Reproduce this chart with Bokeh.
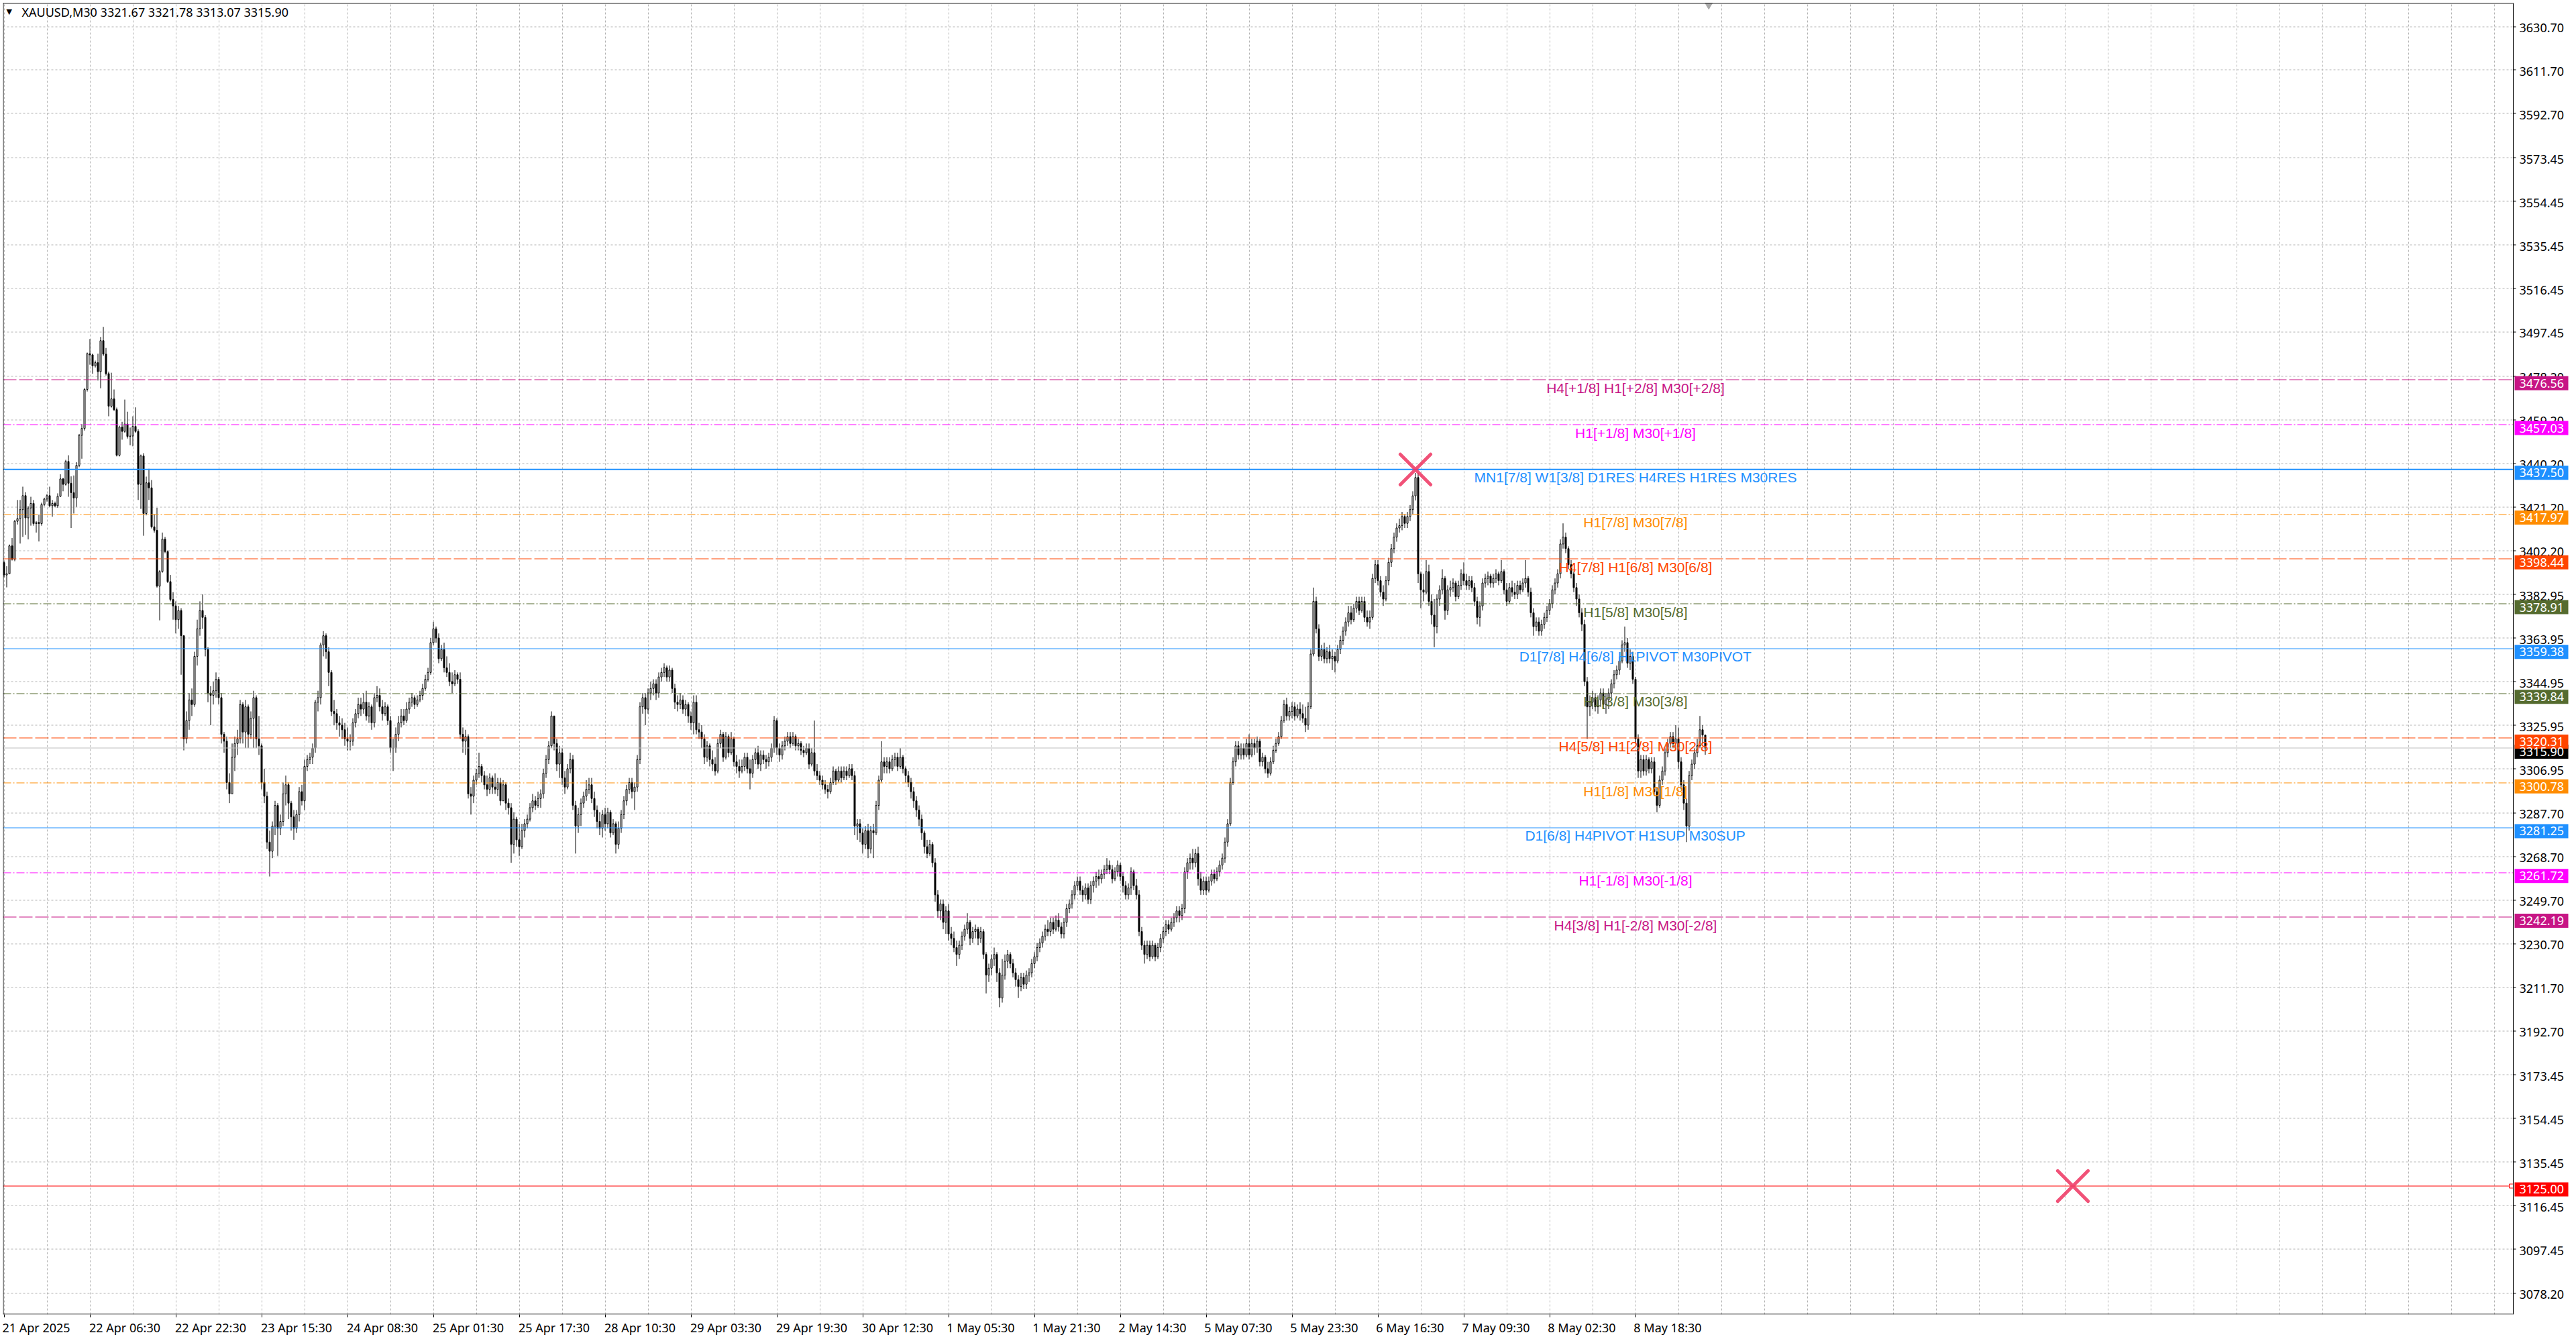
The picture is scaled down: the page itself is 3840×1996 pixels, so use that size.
import math
import numpy as np
from bokeh.plotting import figure
from bokeh.models import ColumnDataSource, FixedTicker, Grid, Label, Range1d
from bokeh.embed import file_html
from bokeh.resources import INLINE
from bokeh.core.properties import value

# ---------------- data ----------------
symbol = "XAUUSD,M30"
first_open = 3396.9

closes = [
3391.5, 3392.0, 3404.2, 3398.3, 3414.9, 3416.1, 3420.0, 3426.1, 3416.4, 3420.7,
3422.7, 3413.9, 3414.4, 3413.9, 3422.2, 3424.6, 3426.1, 3421.7, 3422.7, 3421.7,
3425.8, 3433.4, 3431.0, 3441.0, 3431.5, 3427.4, 3425.1, 3439.3, 3452.4, 3455.4,
3472.4, 3488.0, 3487.5, 3482.7, 3484.1, 3480.2, 3493.7, 3487.8, 3479.3, 3465.1,
3468.3, 3463.6, 3443.7, 3456.0, 3454.1, 3457.3, 3451.9, 3452.1, 3456.3, 3454.1,
3431.0, 3443.4, 3418.3, 3431.7, 3429.5, 3412.5, 3411.0, 3386.6, 3393.0, 3407.1,
3401.7, 3388.6, 3380.8, 3378, 3372, 3376, 3365, 3320, 3328, 3337,
3335, 3356, 3368, 3376, 3373, 3359, 3340, 3339, 3341, 3346,
3338, 3322, 3319, 3301, 3296, 3312, 3318, 3320, 3335, 3323,
3334, 3322, 3329, 3338, 3320, 3317, 3301, 3295, 3275, 3271,
3282, 3291, 3281, 3284, 3296, 3300, 3292, 3286, 3281, 3287,
3297, 3293, 3308, 3311, 3312, 3316, 3336, 3338, 3361, 3365,
3358, 3349, 3332, 3331, 3327, 3326, 3324, 3320, 3319, 3319,
3327, 3331, 3335, 3333, 3336, 3330, 3334, 3327, 3338, 3339,
3334, 3331, 3334, 3328, 3316, 3316, 3322, 3327, 3330, 3328,
3333, 3336, 3338, 3335, 3337, 3339, 3342, 3346, 3349, 3362,
3368, 3364, 3355, 3359, 3351, 3349, 3345, 3344, 3348, 3346,
3322, 3319, 3321, 3296, 3295, 3302, 3305, 3308, 3304, 3300,
3298, 3303, 3299, 3298, 3301, 3293, 3300, 3292, 3290, 3274,
3285, 3276, 3273, 3280, 3283, 3285, 3290, 3293, 3291, 3294,
3296, 3305, 3311, 3317, 3330, 3318, 3309, 3314, 3303, 3299,
3307, 3311, 3291, 3282, 3287, 3292, 3295, 3298, 3300, 3294,
3289, 3284, 3281, 3287, 3283, 3288, 3279, 3283, 3274, 3281,
3287, 3293, 3298, 3301, 3297, 3299, 3311, 3334, 3338, 3333,
3340, 3342, 3344, 3340, 3347, 3349, 3351, 3347, 3350, 3342,
3336, 3335, 3337, 3333, 3335, 3330, 3327, 3336, 3324, 3323,
3320, 3312, 3317, 3311, 3309, 3306, 3318, 3322, 3312, 3321,
3314, 3320, 3310, 3308, 3306, 3308, 3312, 3307, 3305, 3311,
3314, 3309, 3313, 3311, 3310, 3312, 3316, 3328, 3316, 3313,
3317, 3319, 3321, 3318, 3321, 3317, 3318, 3315, 3314, 3316,
3309, 3314, 3306, 3304, 3302, 3300, 3298, 3297, 3301, 3306,
3302, 3306, 3303, 3306, 3304, 3307, 3304, 3282, 3283, 3279,
3274, 3280, 3272, 3280, 3279, 3291, 3302, 3310, 3308, 3310,
3307, 3311, 3312, 3308, 3312, 3307, 3304, 3301, 3297, 3293,
3289, 3285, 3279, 3273, 3270, 3274, 3266, 3252, 3245, 3248,
3240, 3245, 3235, 3233, 3229, 3226, 3230, 3234, 3237, 3240,
3233, 3236, 3237, 3233, 3236, 3226, 3217, 3220, 3224, 3226,
3218, 3207, 3217, 3223, 3226, 3222, 3218, 3215, 3212, 3216,
3213, 3217, 3218, 3222, 3225, 3229, 3231, 3234, 3237, 3236,
3240, 3237, 3241, 3238, 3235, 3240, 3246, 3248, 3252, 3256,
3258, 3254, 3252, 3255, 3250, 3256, 3258, 3260, 3259, 3261,
3263, 3265, 3263, 3259, 3262, 3265, 3260, 3256, 3252, 3255,
3262, 3256, 3252, 3236, 3230, 3226, 3230, 3225, 3230, 3225,
3229, 3233, 3236, 3239, 3237, 3240, 3242, 3245, 3243, 3246,
3262, 3266, 3268, 3266, 3270, 3259, 3254, 3258, 3254, 3258,
3261, 3259, 3262, 3265, 3268, 3275, 3283, 3301, 3310, 3317,
3313, 3316, 3313, 3318, 3313, 3318, 3316, 3319, 3310, 3312,
3307, 3305, 3310, 3315, 3318, 3321, 3328, 3335, 3330, 3332,
3334, 3330, 3333, 3331, 3329, 3326, 3334, 3357, 3380, 3368,
3356, 3359, 3355, 3358, 3355, 3356, 3354, 3359, 3363, 3367,
3371, 3375, 3372, 3377, 3380, 3376, 3380, 3373, 3371, 3373,
3390, 3396, 3389, 3384, 3381, 3389, 3397, 3403, 3408, 3412,
3413, 3417, 3414, 3417, 3420, 3426, 3434, 3392, 3385, 3384,
3393, 3380, 3374, 3369, 3381, 3385, 3390, 3376, 3385, 3386,
3388, 3382, 3387, 3392, 3389, 3387, 3389, 3386, 3380, 3373,
3378, 3388, 3390, 3391, 3388, 3390, 3392, 3389, 3393, 3385,
3380, 3386, 3384, 3383, 3387, 3385, 3388, 3390, 3384, 3375,
3369, 3371, 3367, 3370, 3373, 3376, 3379, 3385, 3388, 3392,
3405, 3408, 3403, 3396, 3392, 3386, 3381, 3375, 3370, 3345,
3334, 3336, 3338, 3334, 3337, 3340, 3335, 3337, 3340, 3344,
3348, 3350, 3354, 3361, 3362, 3353, 3356, 3346, 3320, 3306,
3311, 3306, 3311, 3307, 3310, 3297, 3291, 3302, 3306, 3314,
3318, 3321, 3318, 3320, 3310, 3300, 3292, 3282, 3304, 3309,
3314, 3317, 3324, 3321.67, 3315.90]

highs = [
3397.5, 3395.3, 3404.8, 3407.6, 3415.5, 3424.2, 3424.2, 3430.0, 3427.6, 3421.5,
3425.6, 3424.2, 3415.0, 3417.8, 3423.0, 3425.2, 3426.8, 3430.0, 3424.2, 3423.5,
3427.1, 3435.4, 3433.8, 3441.7, 3443.7, 3434.5, 3434.9, 3440.7, 3453.0, 3457.3,
3473.0, 3488.5, 3494.4, 3488.0, 3485.0, 3488.0, 3495.3, 3499.7, 3490.5, 3480.2,
3479.7, 3472.4, 3464.5, 3456.6, 3458.3, 3468.0, 3462.7, 3455.8, 3460.7, 3464.6,
3455.0, 3444.0, 3444.6, 3434.4, 3437.8, 3432.9, 3418.0, 3420.8, 3393.6, 3410.0,
3408.1, 3402.2, 3391.5, 3384, 3380, 3378, 3377, 3350, 3332, 3340,
3342, 3358, 3372, 3380, 3383, 3374, 3360, 3343, 3345, 3349,
3347, 3340, 3323, 3321, 3305, 3318, 3321, 3324, 3337, 3336,
3337, 3335, 3332, 3341, 3339, 3330, 3318, 3307, 3297, 3280,
3284, 3293, 3292, 3287, 3301, 3304, 3301, 3293, 3289, 3289,
3299, 3300, 3311, 3313, 3314, 3318, 3337, 3341, 3362, 3367,
3366, 3360, 3350, 3337, 3333, 3330, 3329, 3327, 3325, 3322,
3329, 3333, 3338, 3338, 3340, 3341, 3336, 3335, 3340, 3343,
3342, 3337, 3336, 3335, 3330, 3320, 3325, 3330, 3333, 3333,
3336, 3338, 3340, 3339, 3339, 3341, 3344, 3348, 3351, 3364,
3371, 3369, 3366, 3361, 3362, 3356, 3353, 3349, 3350, 3349,
3349, 3325, 3324, 3322, 3299, 3304, 3307, 3314, 3309, 3306,
3304, 3305, 3304, 3305, 3303, 3303, 3302, 3301, 3294, 3292,
3288, 3286, 3283, 3283, 3285, 3287, 3292, 3296, 3295, 3297,
3298, 3307, 3313, 3319, 3332, 3330, 3320, 3317, 3316, 3306,
3309, 3314, 3313, 3293, 3290, 3294, 3297, 3302, 3303, 3303,
3297, 3291, 3288, 3289, 3290, 3290, 3289, 3285, 3284, 3284,
3289, 3295, 3300, 3303, 3303, 3301, 3313, 3336, 3340, 3340,
3342, 3345, 3346, 3346, 3349, 3351, 3353, 3352, 3352, 3351,
3344, 3339, 3340, 3339, 3337, 3336, 3332, 3339, 3339, 3327,
3326, 3322, 3319, 3318, 3315, 3312, 3320, 3324, 3323, 3323,
3322, 3323, 3321, 3313, 3311, 3311, 3314, 3314, 3311, 3313,
3316, 3317, 3315, 3315, 3313, 3314, 3318, 3330, 3329, 3318,
3319, 3321, 3323, 3323, 3323, 3322, 3320, 3319, 3317, 3318,
3318, 3316, 3328, 3309, 3306, 3304, 3302, 3300, 3303, 3308,
3307, 3308, 3308, 3308, 3308, 3309, 3309, 3306, 3285, 3285,
3281, 3282, 3283, 3282, 3283, 3293, 3304, 3319, 3312, 3312,
3312, 3313, 3314, 3314, 3316, 3313, 3308, 3306, 3303, 3299,
3295, 3291, 3287, 3280, 3276, 3276, 3275, 3268, 3254, 3250,
3250, 3247, 3248, 3238, 3236, 3232, 3232, 3236, 3239, 3244,
3241, 3238, 3239, 3238, 3238, 3237, 3227, 3222, 3226, 3229,
3227, 3220, 3224, 3226, 3228, 3227, 3224, 3220, 3217, 3218,
3218, 3219, 3220, 3224, 3227, 3231, 3233, 3236, 3239, 3241,
3242, 3242, 3243, 3244, 3240, 3242, 3248, 3250, 3254, 3258,
3260, 3260, 3256, 3257, 3257, 3258, 3260, 3262, 3263, 3263,
3265, 3268, 3267, 3265, 3264, 3267, 3266, 3262, 3258, 3257,
3264, 3263, 3259, 3254, 3238, 3232, 3232, 3232, 3232, 3231,
3231, 3235, 3238, 3241, 3241, 3242, 3244, 3247, 3247, 3248,
3264, 3268, 3270, 3272, 3272, 3273, 3262, 3260, 3260, 3260,
3263, 3263, 3264, 3267, 3270, 3277, 3285, 3303, 3312, 3319,
3319, 3318, 3318, 3320, 3322, 3320, 3320, 3321, 3320, 3314,
3313, 3310, 3312, 3317, 3320, 3323, 3330, 3337, 3338, 3334,
3336, 3336, 3335, 3336, 3335, 3334, 3336, 3359, 3386, 3382,
3370, 3361, 3362, 3360, 3361, 3359, 3358, 3361, 3365, 3369,
3373, 3378, 3378, 3379, 3382, 3382, 3382, 3382, 3376, 3376,
3392, 3398, 3398, 3391, 3387, 3391, 3399, 3405, 3410, 3414,
3416, 3419, 3418, 3419, 3422, 3428, 3436, 3436, 3393, 3392,
3398, 3396, 3383, 3381, 3383, 3387, 3394, 3391, 3387, 3389,
3390, 3389, 3389, 3394, 3397, 3392, 3391, 3391, 3388, 3382,
3380, 3390, 3392, 3393, 3392, 3392, 3394, 3393, 3398, 3394,
3388, 3388, 3389, 3388, 3389, 3389, 3390, 3398, 3391, 3386,
3377, 3373, 3373, 3372, 3375, 3378, 3381, 3387, 3390, 3394,
3407, 3414, 3410, 3404, 3398, 3393, 3388, 3383, 3377, 3372,
3347, 3339, 3341, 3340, 3339, 3342, 3342, 3340, 3342, 3346,
3350, 3352, 3356, 3363, 3369, 3364, 3359, 3358, 3347, 3322,
3313, 3313, 3313, 3312, 3312, 3312, 3299, 3304, 3308, 3316,
3320, 3323, 3323, 3326, 3325, 3312, 3302, 3294, 3306, 3311,
3316, 3320, 3330, 3326, 3321.78]

lows = [
3390.5, 3386.1, 3391.8, 3397.8, 3397.5, 3413.5, 3405.2, 3408.1, 3409.0, 3407.0,
3413.0, 3413.0, 3410.0, 3406.1, 3413.0, 3421.5, 3423.5, 3421.0, 3416.9, 3421.0,
3420.8, 3425.5, 3428.0, 3430.5, 3425.6, 3412.0, 3418.3, 3421.2, 3438.5, 3442.2,
3454.5, 3471.5, 3483.2, 3479.3, 3482.0, 3476.3, 3472.9, 3487.0, 3478.5, 3460.7,
3464.5, 3463.0, 3443.2, 3443.2, 3450.5, 3453.5, 3451.0, 3448.1, 3447.6, 3453.5,
3424.2, 3420.3, 3408.6, 3417.5, 3424.2, 3411.8, 3410.0, 3386.0, 3371.7, 3392.5,
3401.0, 3388.0, 3380.0, 3372, 3366, 3368, 3348, 3315, 3318, 3324,
3330, 3334, 3352, 3365, 3368, 3356, 3336, 3326, 3335, 3338,
3335, 3318, 3314, 3298, 3292, 3296, 3306, 3313, 3318, 3318,
3316, 3316, 3320, 3316, 3316, 3313, 3298, 3292, 3272, 3260,
3268, 3278, 3269, 3278, 3282, 3291, 3285, 3280, 3276, 3279,
3284, 3291, 3289, 3306, 3309, 3309, 3314, 3332, 3335, 3356,
3355, 3343, 3330, 3326, 3324, 3321, 3320, 3317, 3315, 3315,
3317, 3325, 3329, 3330, 3331, 3328, 3327, 3324, 3325, 3336,
3332, 3328, 3330, 3326, 3314, 3306, 3314, 3319, 3325, 3326,
3327, 3331, 3334, 3333, 3334, 3336, 3337, 3341, 3345, 3348,
3361, 3362, 3353, 3354, 3349, 3347, 3343, 3340, 3343, 3344,
3320, 3314, 3313, 3294, 3287, 3292, 3300, 3303, 3301, 3298,
3295, 3296, 3296, 3296, 3295, 3291, 3293, 3289, 3287, 3266,
3270, 3273, 3269, 3272, 3277, 3281, 3284, 3288, 3289, 3290,
3290, 3294, 3303, 3309, 3316, 3315, 3306, 3303, 3300, 3296,
3298, 3305, 3289, 3270, 3279, 3282, 3290, 3293, 3296, 3292,
3286, 3281, 3278, 3277, 3280, 3281, 3277, 3278, 3270, 3272,
3279, 3285, 3291, 3296, 3294, 3289, 3297, 3309, 3331, 3326,
3331, 3337, 3339, 3337, 3338, 3345, 3347, 3345, 3345, 3340,
3333, 3332, 3333, 3331, 3330, 3327, 3324, 3322, 3322, 3320,
3316, 3309, 3310, 3308, 3306, 3304, 3305, 3316, 3310, 3311,
3312, 3313, 3308, 3305, 3303, 3305, 3306, 3305, 3298, 3303,
3309, 3307, 3306, 3309, 3307, 3308, 3310, 3314, 3313, 3310,
3311, 3315, 3317, 3316, 3317, 3315, 3315, 3313, 3312, 3313,
3307, 3308, 3304, 3302, 3300, 3298, 3296, 3294, 3296, 3300,
3300, 3301, 3301, 3302, 3302, 3303, 3302, 3278, 3276, 3275,
3270, 3272, 3268, 3270, 3268, 3278, 3289, 3301, 3305, 3305,
3305, 3306, 3308, 3306, 3307, 3305, 3301, 3299, 3294, 3290,
3286, 3282, 3276, 3270, 3268, 3269, 3264, 3249, 3242, 3241,
3237, 3235, 3232, 3230, 3227, 3221, 3224, 3228, 3232, 3235,
3230, 3231, 3233, 3230, 3231, 3224, 3209, 3214, 3217, 3221,
3214, 3203, 3205, 3215, 3220, 3220, 3216, 3212, 3207, 3210,
3211, 3211, 3214, 3216, 3220, 3223, 3227, 3229, 3232, 3234,
3234, 3235, 3236, 3236, 3233, 3233, 3238, 3244, 3246, 3250,
3254, 3252, 3249, 3250, 3248, 3248, 3253, 3255, 3256, 3257,
3259, 3261, 3261, 3257, 3258, 3260, 3258, 3253, 3250, 3250,
3252, 3254, 3250, 3234, 3228, 3222, 3224, 3223, 3224, 3223,
3224, 3227, 3231, 3234, 3235, 3236, 3238, 3240, 3240, 3241,
3244, 3259, 3263, 3263, 3264, 3256, 3252, 3252, 3252, 3253,
3256, 3257, 3258, 3260, 3263, 3266, 3273, 3282, 3300, 3308,
3311, 3311, 3311, 3312, 3311, 3312, 3313, 3314, 3308, 3308,
3305, 3303, 3304, 3309, 3314, 3317, 3320, 3327, 3328, 3328,
3329, 3328, 3329, 3328, 3327, 3323, 3324, 3333, 3356, 3366,
3354, 3354, 3353, 3353, 3353, 3350, 3349, 3353, 3357, 3361,
3365, 3369, 3370, 3371, 3375, 3374, 3375, 3371, 3369, 3368,
3372, 3388, 3387, 3382, 3378, 3380, 3387, 3395, 3401, 3406,
3410, 3411, 3412, 3412, 3415, 3418, 3424, 3388, 3377, 3380,
3383, 3378, 3370, 3360, 3366, 3378, 3383, 3372, 3374, 3382,
3384, 3380, 3381, 3385, 3387, 3385, 3385, 3384, 3378, 3370,
3369, 3376, 3386, 3387, 3386, 3386, 3388, 3387, 3388, 3383,
3378, 3379, 3382, 3381, 3381, 3383, 3384, 3386, 3382, 3373,
3365, 3367, 3365, 3365, 3368, 3371, 3374, 3377, 3383, 3386,
3390, 3403, 3401, 3394, 3390, 3384, 3378, 3373, 3367, 3343,
3320, 3330, 3333, 3332, 3331, 3334, 3333, 3331, 3333, 3338,
3342, 3346, 3348, 3353, 3358, 3351, 3350, 3344, 3318, 3303,
3303, 3304, 3304, 3305, 3305, 3295, 3288, 3290, 3300, 3304,
3312, 3316, 3316, 3315, 3307, 3298, 3289, 3275, 3280, 3302,
3307, 3312, 3316, 3318, 3313.07]

time_labels = ["21 Apr 2025", "22 Apr 06:30", "22 Apr 22:30", "23 Apr 15:30", "24 Apr 08:30",
               "25 Apr 01:30", "25 Apr 17:30", "28 Apr 10:30", "29 Apr 03:30", "29 Apr 19:30",
               "30 Apr 12:30", "1 May 05:30", "1 May 21:30", "2 May 14:30", "5 May 07:30",
               "5 May 23:30", "6 May 16:30", "7 May 09:30", "8 May 02:30", "8 May 18:30"]
bars_per_label = 32

price_ticks = [3630.70, 3611.70, 3592.70, 3573.45, 3554.45, 3535.45, 3516.45, 3497.45,
               3478.20, 3459.20, 3440.20, 3421.20, 3402.20, 3382.95, 3363.95, 3344.95,
               3325.95, 3306.95, 3287.70, 3268.70, 3249.70, 3230.70, 3211.70, 3192.70,
               3173.45, 3154.45, 3135.45, 3116.45, 3097.45, 3078.20]

level_prices = [3476.56, 3457.03, 3437.50, 3417.97, 3398.44, 3378.91, 3359.38,
                3339.84, 3320.31, 3300.78, 3281.25, 3261.72, 3242.19]
level_names = ["H4[+1/8] H1[+2/8] M30[+2/8]", "H1[+1/8] M30[+1/8]",
               "MN1[7/8] W1[3/8] D1RES H4RES H1RES M30RES", "H1[7/8] M30[7/8]",
               "H4[7/8] H1[6/8] M30[6/8]", "H1[5/8] M30[5/8]",
               "D1[7/8] H4[6/8] H1PIVOT M30PIVOT", "H1[3/8] M30[3/8]",
               "H4[5/8] H1[2/8] M30[2/8]", "H1[1/8] M30[1/8]",
               "D1[6/8] H4PIVOT H1SUP M30SUP", "H1[-1/8] M30[-1/8]",
               "H4[3/8] H1[-2/8] M30[-2/8]"]
level_kind = ["pm2", "pm1", "main", "o18", "r28", "g38", "piv", "g38", "r28", "o18", "piv", "pm1", "pm2"]

target_price = 3125.00
target_bars = [526, 771]
target_prices = [3437.50, 3125.00]

# ---------------- styles / layout ----------------
kind_style = {
    "pm2": dict(color="#C71585", dash="20 4", width=1),
    "pm1": dict(color="#FF00FF", dash="12 3 2 3", width=1),
    "main": dict(color="#1E90FF", dash="solid", width=2),
    "piv": dict(color="#1E90FF", dash="solid", width=1),
    "o18": dict(color="#FF8C00", dash="12 3 2 3", width=1),
    "r28": dict(color="#FF4500", dash="20 4", width=1),
    "g38": dict(color="#556B2F", dash="12 3 2 3", width=1),
}
UI_FONT = "Noto Sans"
LBL_FONT = "Liberation Sans"
GRID_COL = "#B4B4B4"

FRAME_W, FRAME_H = 3832, 1955
PXB = 4.0          # pixels per bar
PXU = 3.418        # pixels per price unit
X0 = -0.375        # bar centres land on pixel centres
X1 = X0 + FRAME_W / PXB
X_AX = X0 + 3742 / PXB          # price-scale separator
Y1 = 3640.94
Y0 = Y1 - FRAME_H / PXU


def snap(pr):
    """place a horizontal 1px line on a pixel centre"""
    k = math.floor((Y1 - pr) * PXU)
    return Y1 - (k + 0.5) / PXU


n = min(len(closes), len(highs), len(lows))
C = np.array(closes[:n], dtype=float)
O = np.concatenate([[first_open], C[:-1]])
H = np.maximum(np.array(highs[:n], dtype=float), np.maximum(O, C))
L = np.minimum(np.array(lows[:n], dtype=float), np.minimum(O, C))
idx = np.arange(n)
bull = C >= O

src = ColumnDataSource(dict(x=idx, o=O, h=H, l=L, c=C,
                            top=np.maximum(O, C), bot=np.minimum(O, C),
                            fill=np.where(bull, "white", "black")))

p = figure(frame_width=FRAME_W, frame_height=FRAME_H,
           x_range=Range1d(X0, X1), y_range=Range1d(Y0, Y1),
           y_axis_location=None, output_backend="svg", toolbar_location=None,
           min_border_left=4, min_border_top=4, min_border_right=0, min_border_bottom=29)
p.background_fill_color = "white"
p.border_fill_color = "white"
p.outline_line_color = None
p.xgrid.visible = False
p.ygrid.visible = False

# vertical grid (every 16 bars)
vgrid = Grid(dimension=0, ticker=FixedTicker(ticks=list(range(0, int(X_AX), 16))),
             grid_line_color=GRID_COL, grid_line_dash="3 3")
p.add_layout(vgrid)

# horizontal grid at price ticks, up to the price scale
gy = [snap(t) for t in price_ticks]
p.segment(x0=[X0] * len(gy), y0=gy, x1=[X_AX] * len(gy), y1=gy,
          line_color=GRID_COL, line_dash="3 3", line_width=1)

# x axis (below): labels left-aligned on their bar -> ticks at label centres
starts = [k * bars_per_label for k in range(len(time_labels))]
centres = [s + int(round(len(t) * 8.9 / PXB / 2)) for s, t in zip(starts, time_labels)]
p.xaxis.ticker = FixedTicker(ticks=centres, minor_ticks=starts)
p.xaxis.major_label_overrides = {c: t for c, t in zip(centres, time_labels)}
p.xaxis.major_tick_line_color = None
p.xaxis.major_tick_out = 0
p.xaxis.major_tick_in = 0
p.xaxis.minor_tick_line_color = "black"
p.xaxis.minor_tick_out = 4
p.xaxis.minor_tick_in = 0
p.xaxis.major_label_standoff = 3
p.xaxis.major_label_text_font = UI_FONT
p.xaxis.major_label_text_font_size = "18px"
p.xaxis.major_label_text_color = "black"
p.xaxis.axis_line_color = None

# candles
p.segment(x0="x", y0="l", x1="x", y1="h", source=src, line_color="black", line_width=1)
p.vbar(x="x", top="top", bottom="bot", width=0.5, source=src,
       fill_color="fill", line_color="black", line_width=1)

# current price line
p.segment(x0=[X0], y0=[snap(C[-1])], x1=[X_AX], y1=[snap(C[-1])], line_color="#BEBEBE", line_width=1)

# level lines
for pr, kd in zip(level_prices, level_kind):
    st = kind_style[kd]
    yy = snap(pr) if st["width"] == 1 else pr
    p.segment(x0=[X0], y0=[yy], x1=[X_AX], y1=[yy], line_color=st["color"],
              line_width=st["width"], line_dash=st["dash"])
p.segment(x0=[X0], y0=[snap(target_price)], x1=[X_AX], y1=[snap(target_price)],
          line_color="#FF0000", line_width=1)
p.scatter(x=[X_AX - 0.75], y=[snap(target_price)], marker="square", size=6,
          fill_color="white", line_color="#FF0000", line_width=1)

# level labels (centred on the 8 May 18:30 bar, just below their line)
lab_x = starts[-1]
p.text(x=[lab_x] * len(level_prices),
       y=[pr - 12.0 / PXU for pr in level_prices],
       text=level_names,
       text_color=[kind_style[k]["color"] for k in level_kind],
       text_font=value(LBL_FONT), text_font_size="21px",
       text_align="center", text_baseline="middle")

# target crosses
p.scatter(x=target_bars, y=target_prices, marker="x", size=64, line_width=5,
          line_color="#EE3460", line_alpha=0.85, line_cap="round")

# shift marker at top
p.scatter(x=[n + 0.3], y=[Y1 - 3 / PXU], marker="inverted_triangle", size=11,
          fill_color="#A8A8A8", line_color="#A8A8A8")

# chart border + price scale
bx = [X0 + 0.5 / PXB, X0, X0, X_AX]
by0 = [Y0, Y1 - 0.5 / PXU, Y0 + 0.5 / PXU, Y0]
bx1 = [X0 + 0.5 / PXB, X_AX, X_AX, X_AX]
by1 = [Y1, Y1 - 0.5 / PXU, Y0 + 0.5 / PXU, Y1]
p.segment(x0=bx, y0=by0, x1=bx1, y1=by1, line_color="black", line_width=1)
p.segment(x0=[X_AX] * len(gy), y0=gy, x1=[X_AX + 1.0] * len(gy),
          y1=gy, line_color="black", line_width=1)
p.text(x=[X_AX + 9 / PXB] * len(price_ticks), y=[t - 2 / PXU for t in price_ticks],
       text=[f"{t:.2f}" for t in price_ticks], text_color="black",
       text_font=value(UI_FONT), text_font_size="18px", text_align="left", text_baseline="middle")

# price tags on the scale
tags = [(C[-1], "black")] + [(pr, kind_style[k]["color"]) for pr, k in zip(level_prices, level_kind)] \
       + [(target_price, "#FF0000")]
tag_y = [pr - 5.0 / PXU for pr, _ in tags]
p.rect(x=[X_AX + 42 / PXB] * len(tags), y=tag_y, width=80 / PXB, height=21 / PXU,
       fill_color=[c for _, c in tags], line_color=None)
p.text(x=[X_AX + 9 / PXB] * len(tags), y=tag_y, text=[f"{pr:.2f}" for pr, _ in tags],
       text_color="white", text_font=value(UI_FONT), text_font_size="18px",
       text_align="left", text_baseline="middle")

# title
title = f"{symbol}  {O[-1]:.2f} {H[-1]:.2f} {L[-1]:.2f} {C[-1]:.2f}"
p.add_layout(Label(x=28, x_units="screen", y=FRAME_H - 13, y_units="screen", text=title,
                   text_font=UI_FONT, text_font_size="18px", text_color="black",
                   text_baseline="middle", text_align="left"))
p.add_layout(Label(x=5, x_units="screen", y=FRAME_H - 13, y_units="screen", text="\u25BC",
                   text_font="DejaVu Sans", text_font_size="11px", text_color="black",
                   text_baseline="middle", text_align="left"))

open("out.html", "w").write(file_html(p, INLINE))
